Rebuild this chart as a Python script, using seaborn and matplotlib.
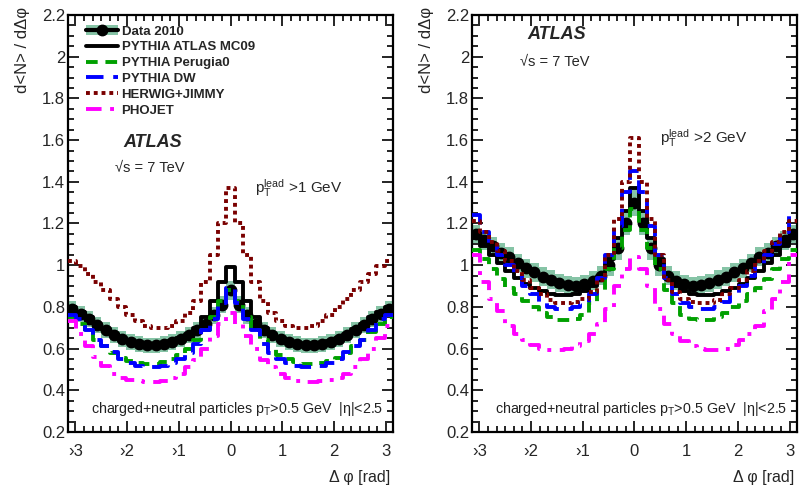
import numpy as np
import matplotlib
matplotlib.use("Agg")
import matplotlib.pyplot as plt
import seaborn as sns
from matplotlib.lines import Line2D
from matplotlib.patches import Patch
from matplotlib.ticker import AutoMinorLocator, MultipleLocator

# ---------------- data: <N>/dphi per bin, 39 bins from -pi to pi ----------------
n_bins = 39

# pT lead > 1 GeV
data_1 = [0.79, 0.765, 0.74, 0.715, 0.69, 0.665, 0.645, 0.63, 0.62, 0.615, 0.615, 0.62, 0.63, 0.645, 0.665, 0.69, 0.72, 0.76, 0.81,
          0.88,
          0.81, 0.76, 0.72, 0.69, 0.665, 0.645, 0.63, 0.62, 0.615, 0.615, 0.62, 0.63, 0.645, 0.665, 0.69, 0.715, 0.74, 0.765, 0.79]
err_1 = [0.038, 0.038, 0.038, 0.038, 0.038, 0.038, 0.038, 0.038, 0.038, 0.038, 0.038, 0.038, 0.038, 0.038, 0.038, 0.038, 0.038, 0.04, 0.04,
         0.045,
         0.04, 0.04, 0.038, 0.038, 0.038, 0.038, 0.038, 0.038, 0.038, 0.038, 0.038, 0.038, 0.038, 0.038, 0.038, 0.038, 0.038, 0.038, 0.038]
mc09_1 = [0.80, 0.775, 0.75, 0.72, 0.695, 0.67, 0.65, 0.635, 0.625, 0.62, 0.62, 0.625, 0.635, 0.65, 0.67, 0.70, 0.75, 0.83, 0.92,
          0.99,
          0.92, 0.83, 0.75, 0.70, 0.67, 0.65, 0.635, 0.625, 0.62, 0.62, 0.625, 0.635, 0.65, 0.67, 0.695, 0.72, 0.75, 0.775, 0.80]
perugia_1 = [0.75, 0.72, 0.68, 0.64, 0.61, 0.58, 0.555, 0.54, 0.53, 0.525, 0.525, 0.535, 0.55, 0.57, 0.60, 0.64, 0.69, 0.75, 0.83,
             0.88,
             0.83, 0.75, 0.69, 0.64, 0.60, 0.57, 0.55, 0.535, 0.525, 0.525, 0.53, 0.54, 0.555, 0.58, 0.61, 0.64, 0.68, 0.72, 0.75]
dw_1 = [0.76, 0.74, 0.69, 0.64, 0.61, 0.585, 0.55, 0.53, 0.515, 0.51, 0.51, 0.515, 0.53, 0.55, 0.58, 0.62, 0.69, 0.74, 0.82,
        0.89,
        0.82, 0.74, 0.69, 0.62, 0.58, 0.55, 0.53, 0.515, 0.51, 0.51, 0.515, 0.53, 0.55, 0.585, 0.61, 0.64, 0.69, 0.74, 0.76]
herwig_1 = [1.02, 0.995, 0.96, 0.92, 0.88, 0.84, 0.80, 0.76, 0.73, 0.71, 0.70, 0.70, 0.71, 0.73, 0.77, 0.83, 0.92, 1.05, 1.20,
            1.37,
            1.20, 1.05, 0.92, 0.83, 0.77, 0.73, 0.71, 0.70, 0.70, 0.71, 0.73, 0.76, 0.80, 0.84, 0.88, 0.92, 0.96, 0.995, 1.02]
phojet_1 = [0.73, 0.67, 0.61, 0.56, 0.515, 0.48, 0.46, 0.45, 0.445, 0.44, 0.44, 0.445, 0.46, 0.48, 0.51, 0.545, 0.60, 0.66, 0.72,
            0.77,
            0.72, 0.66, 0.60, 0.545, 0.51, 0.48, 0.46, 0.445, 0.44, 0.44, 0.445, 0.45, 0.46, 0.48, 0.51, 0.55, 0.60, 0.65, 0.71]

# pT lead > 2 GeV
data_2 = [1.15, 1.12, 1.09, 1.06, 1.04, 1.01, 0.985, 0.965, 0.945, 0.93, 0.915, 0.905, 0.90, 0.91, 0.925, 0.95, 1.00, 1.08, 1.20,
          1.30,
          1.20, 1.08, 1.00, 0.95, 0.925, 0.91, 0.90, 0.905, 0.915, 0.93, 0.945, 0.965, 0.985, 1.01, 1.04, 1.06, 1.09, 1.12, 1.15]
err_2 = [0.045, 0.045, 0.045, 0.045, 0.045, 0.045, 0.045, 0.045, 0.045, 0.045, 0.045, 0.045, 0.045, 0.045, 0.045, 0.045, 0.05, 0.055, 0.055,
         0.065,
         0.055, 0.055, 0.05, 0.045, 0.045, 0.045, 0.045, 0.045, 0.045, 0.045, 0.045, 0.045, 0.045, 0.045, 0.045, 0.045, 0.045, 0.045, 0.045]
mc09_2 = [1.13, 1.09, 1.05, 1.01, 0.97, 0.94, 0.91, 0.89, 0.875, 0.86, 0.855, 0.855, 0.86, 0.875, 0.90, 0.95, 1.03, 1.13, 1.26,
          1.37,
          1.26, 1.13, 1.03, 0.95, 0.90, 0.875, 0.86, 0.855, 0.855, 0.86, 0.875, 0.89, 0.91, 0.94, 0.97, 1.01, 1.05, 1.09, 1.13]
perugia_2 = [1.075, 1.03, 0.98, 0.935, 0.89, 0.86, 0.83, 0.80, 0.77, 0.75, 0.735, 0.735, 0.74, 0.76, 0.82, 0.88, 0.98, 1.08, 1.17,
             1.27,
             1.17, 1.08, 0.98, 0.88, 0.82, 0.76, 0.74, 0.735, 0.735, 0.75, 0.77, 0.80, 0.83, 0.86, 0.89, 0.935, 0.98, 1.03, 1.075]
dw_2 = [1.24, 1.16, 1.10, 1.05, 1.00, 0.95, 0.90, 0.86, 0.825, 0.80, 0.79, 0.79, 0.80, 0.82, 0.86, 0.94, 1.05, 1.19, 1.35,
        1.45,
        1.35, 1.19, 1.05, 0.94, 0.86, 0.82, 0.80, 0.79, 0.79, 0.80, 0.825, 0.86, 0.90, 0.95, 1.00, 1.05, 1.10, 1.16, 1.24]
herwig_2 = [1.21, 1.16, 1.11, 1.07, 1.02, 0.97, 0.93, 0.89, 0.86, 0.835, 0.82, 0.82, 0.825, 0.84, 0.87, 0.93, 1.05, 1.22, 1.40,
            1.61,
            1.40, 1.22, 1.05, 0.93, 0.87, 0.84, 0.825, 0.82, 0.82, 0.835, 0.86, 0.89, 0.93, 0.97, 1.02, 1.07, 1.11, 1.16, 1.21]
phojet_2 = [1.05, 0.92, 0.84, 0.78, 0.71, 0.67, 0.64, 0.615, 0.60, 0.595, 0.595, 0.60, 0.61, 0.635, 0.67, 0.72, 0.79, 0.90, 0.98,
            1.04,
            0.98, 0.90, 0.79, 0.72, 0.67, 0.635, 0.61, 0.60, 0.595, 0.595, 0.60, 0.615, 0.64, 0.67, 0.71, 0.78, 0.84, 0.92, 1.05]

x_ticks = [-3, -2, -1, 0, 1, 2, 3]
x_tick_labels = ["\u203a3", "\u203a2", "\u203a1", "0", "1", "2", "3"]
y_ticks = [0.2, 0.4, 0.6, 0.8, 1.0, 1.2, 1.4, 1.6, 1.8, 2.0, 2.2]
y_tick_labels = ["0.2", "0.4", "0.6", "0.8", "1", "1.2", "1.4", "1.6", "1.8", "2", "2.2"]

# ---------------- style ----------------
sns.set_style("ticks")
plt.rcParams["font.family"] = ["Liberation Sans", "DejaVu Sans"]
plt.rcParams["mathtext.fontset"] = "custom"
plt.rcParams["mathtext.rm"] = "Liberation Sans"
plt.rcParams["mathtext.it"] = "Liberation Sans:italic"

band_col = "#86c4a6"
models = [
    ("PYTHIA ATLAS MC09", "black", (None, None)),
    ("PYTHIA Perugia0", "#00a000", (3, 2)),
    ("PYTHIA DW", "#0000ff", (4.5, 2.5)),
    ("HERWIG+JIMMY", "#7a0000", (1, 1)),
    ("PHOJET", "#ff00ff", (4, 2.2, 1, 2.2)),
]

edges = np.linspace(-np.pi, np.pi, n_bins + 1)
centers = 0.5 * (edges[:-1] + edges[1:])
width = edges[1] - edges[0]

fig = plt.figure(figsize=(8.04, 4.88), dpi=100)
ax1 = fig.add_axes([0.0846, 0.1148, 0.4043, 0.8545])
ax2 = fig.add_axes([0.587, 0.1148, 0.4043, 0.8545])

panels = [
    (ax1, data_1, err_1, [mc09_1, perugia_1, dw_1, herwig_1, phojet_1]),
    (ax2, data_2, err_2, [mc09_2, perugia_2, dw_2, herwig_2, phojet_2]),
]

bottom_text = ("charged+neutral particles $\\mathrm{p}_{\\mathrm{T}}$>0.5 GeV  |\u03b7|<2.5")

for ax, data, err, mcs in panels:
    data = np.array(data)
    err = np.array(err)
    # data uncertainty band
    ax.bar(centers, 2 * err, bottom=data - err, width=width, color=band_col, linewidth=0, zorder=1)
    # data points
    ax.errorbar(centers, data, xerr=width / 2, fmt="o", color="black", ms=7.5,
                elinewidth=3, capsize=0, zorder=2)
    # MC histograms
    for (name, col, dash), vals in zip(models, mcs):
        kw = dict(color=col, linewidth=2.8, zorder=3)
        if dash[0] is not None:
            kw["dashes"] = dash
        sns.histplot(x=centers, weights=vals, bins=edges.tolist(), element="step", fill=False,
                     ax=ax, **kw)

    ax.set_xlim(-np.pi, np.pi)
    ax.set_ylim(0.2, 2.2)
    ax.set_xticks(x_ticks)
    ax.set_xticklabels(x_tick_labels, fontsize=12)
    ax.set_yticks(y_ticks)
    ax.set_yticklabels(y_tick_labels, fontsize=12)
    ax.xaxis.set_minor_locator(AutoMinorLocator(6))
    ax.yaxis.set_minor_locator(MultipleLocator(0.05))
    ax.tick_params(which="both", direction="in", top=True, right=True, width=1.2, color="black")
    ax.tick_params(which="major", length=8)
    ax.tick_params(which="minor", length=4.5)
    ax.tick_params(axis="x", which="major", pad=9)
    ax.tick_params(axis="y", which="major", pad=2)
    for s in ax.spines.values():
        s.set_linewidth(1.6)
        s.set_color("black")
    ax.set_ylabel("d<N> / d\u0394\u03c6", fontsize=12)
    ax.yaxis.set_label_coords(-0.118, 1.02)
    ax.yaxis.label.set_horizontalalignment("right")
    ax.set_xlabel("\u0394 \u03c6 [rad]", fontsize=11.5)
    ax.xaxis.set_label_coords(0.99, -0.09)
    ax.xaxis.label.set_horizontalalignment("right")
    ax.text(0.071, 0.055, bottom_text, transform=ax.transAxes, fontsize=10.3,
            color="#222222", va="center")

ax1.text(0.169, 0.695, "ATLAS", transform=ax1.transAxes, fontsize=13,
         fontweight="bold", fontstyle="italic", va="center")
ax1.text(0.145, 0.633, "\u221as = 7 TeV", transform=ax1.transAxes, fontsize=10.5, va="center")
ax1.text(0.575, 0.585, r"$\mathrm{p}_{\mathrm{T}}^{\mathrm{lead}}$ >1 GeV", transform=ax1.transAxes,
         fontsize=11, va="center")

ax2.text(0.169, 0.952, "ATLAS", transform=ax2.transAxes, fontsize=13,
         fontweight="bold", fontstyle="italic", va="center")
ax2.text(0.148, 0.887, "\u221as = 7 TeV", transform=ax2.transAxes, fontsize=10.5, va="center")
ax2.text(0.578, 0.705, r"$\mathrm{p}_{\mathrm{T}}^{\mathrm{lead}}$ >2 GeV", transform=ax2.transAxes,
         fontsize=11, va="center")

# legend
handles = [(Patch(facecolor=band_col, edgecolor="none"),
            Line2D([], [], color="black", lw=3, marker="o", ms=7.5))]
labels = ["Data 2010"]
for name, col, dash in models:
    h = Line2D([], [], color=col, lw=2.8)
    if dash[0] is not None:
        h.set_dashes(dash)
    handles.append(h)
    labels.append(name)
ax1.legend(handles, labels, loc="upper left", bbox_to_anchor=(0.055, 0.975), frameon=False,
           prop={"size": 9.5, "weight": "bold"}, handlelength=2.4, handletextpad=0.3,
           labelspacing=0.27, borderaxespad=0, borderpad=0)

fig.savefig("out.png", dpi=100)
